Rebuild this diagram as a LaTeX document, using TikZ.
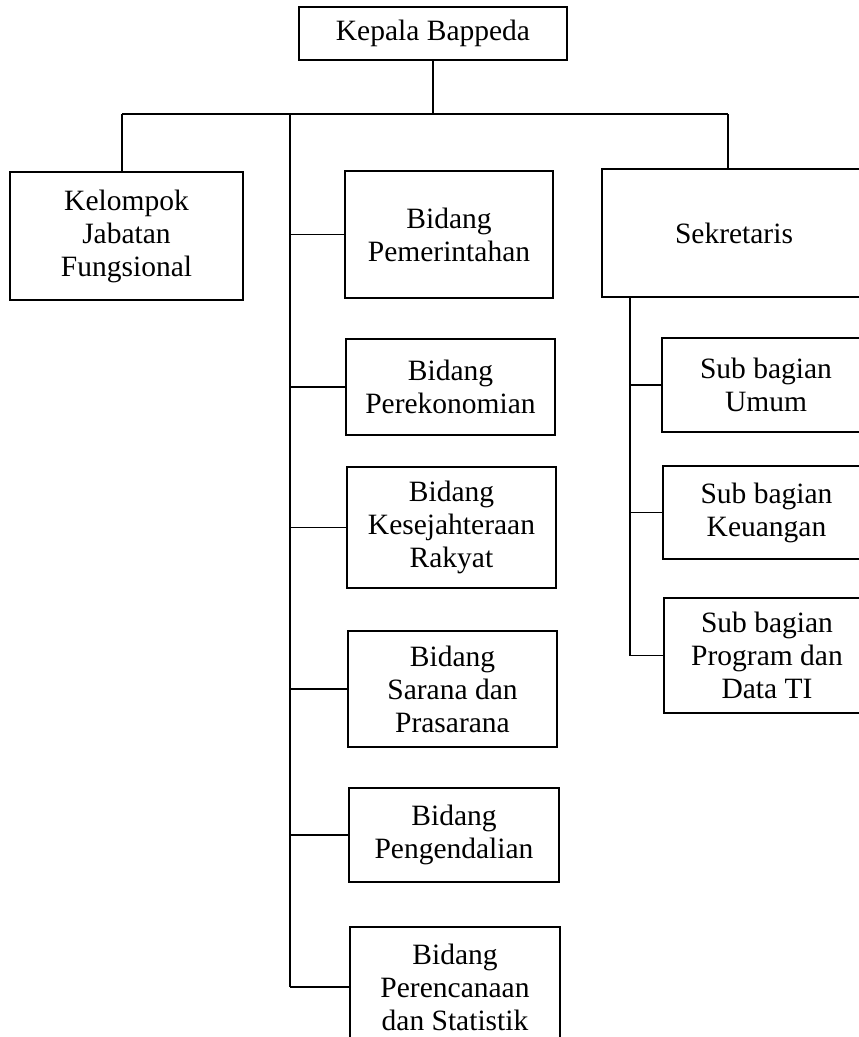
\documentclass[tikz,border=0pt]{standalone}
\usepackage{fontspec}
\setmainfont{Liberation Serif}
\begin{document}
\begin{tikzpicture}[x=1pt,y=-1pt,
  orgbox/.style={draw, line width=1.6pt, align=center, inner sep=0pt,
    font=\fontsize{29.5}{33}\selectfont},
  link/.style={line width=1.6pt}]
\useasboundingbox (0,0) rectangle (859,1037);
\clip (0,0) rectangle (859,1037);
% boxes
\node[orgbox, minimum width=268pt, minimum height=53pt] (kepala) at (433,33.5) {Kepala Bappeda};
\node[orgbox, minimum width=233pt, minimum height=128pt] (kelompok) at (126.5,236) {Kelompok\\Jabatan\\Fungsional};
\node[orgbox, minimum width=208pt, minimum height=127pt] (pem) at (449,234.5) {Bidang\\Pemerintahan};
\node[orgbox, minimum width=209pt, minimum height=96pt] (eko) at (450.5,387) {Bidang\\Perekonomian};
\node[orgbox, minimum width=209pt, minimum height=121pt] (kes) at (451.5,527.5) {Bidang\\Kesejahteraan\\Rakyat};
\node[orgbox, minimum width=209pt, minimum height=116pt] (sar) at (452.5,689) {Bidang\\Sarana dan\\Prasarana};
\node[orgbox, minimum width=210pt, minimum height=94pt] (pen) at (454,835) {Bidang\\Pengendalian};
\node[orgbox, minimum width=210pt, minimum height=120pt] (ren) at (455,987) {Bidang\\Perencanaan\\dan Statistik};
\node[orgbox, minimum width=264pt, minimum height=128pt] (sek) at (734,233) {Sekretaris};
\node[orgbox, minimum width=208pt, minimum height=94pt] (umum) at (766,385) {Sub bagian\\Umum};
\node[orgbox, minimum width=207pt, minimum height=93pt] (keu) at (766.5,512.5) {Sub bagian\\Keuangan};
\node[orgbox, minimum width=206pt, minimum height=115pt] (prog) at (767,655.5) {Sub bagian\\Program dan\\Data TI};
% connector coordinates
\coordinate (hl) at (122,114);
\coordinate (hr) at (728,114);
\coordinate (tt) at (290,114);
\coordinate (st) at (630,297);
% connectors
\draw[link] (kepala.south) -- (kepala.south |- hl);
\draw[link] (hl) -- (hr);
\draw[link] (hl) -- (hl |- kelompok.north);
\draw[link] (hr) -- (hr |- sek.north);
\draw[link] (tt) -- (tt |- ren.west);
\foreach \n in {pem,eko,kes,sar,pen,ren}
  \draw[link] (\n.west) -- (\n.west -| tt);
\draw[link] (st |- sek.south) -- (st |- prog.west);
\foreach \n in {umum,keu,prog}
  \draw[link] (\n.west) -- (\n.west -| st);
\end{tikzpicture}
\end{document}
